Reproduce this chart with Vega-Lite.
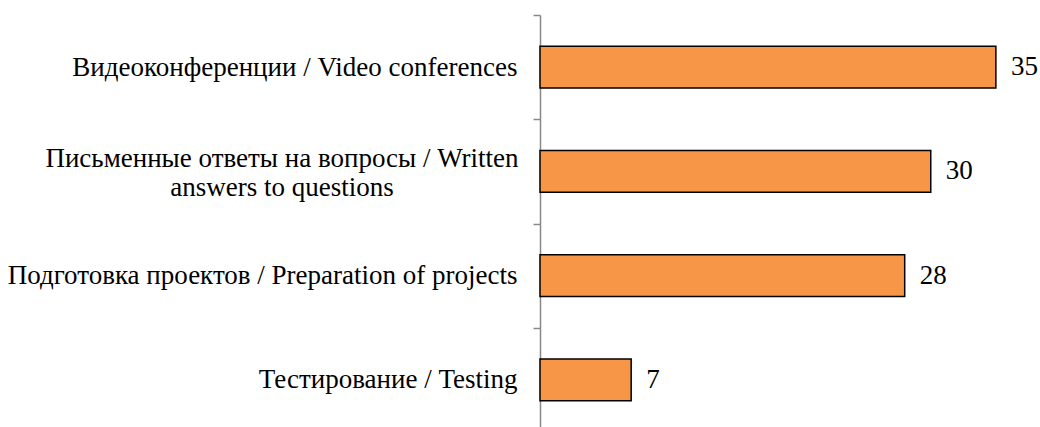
{
  "$schema": "https://vega.github.io/schema/vega-lite/v6.json",
  "width": 521,
  "height": 417,
  "autosize": "none",
  "padding": {"left": 540, "top": 15, "right": 0, "bottom": 0},
  "background": "white",
  "config": {"view": {"stroke": null}, "font": "Liberation Serif"},
  "data": {"values": [
    {"category": "Видеоконференции / Video conferences", "value": 35},
    {"category": "Письменные ответы на вопросы / Written|answers to questions", "value": 30},
    {"category": "Подготовка проектов / Preparation of projects", "value": 28},
    {"category": "Тестирование / Testing", "value": 7}
  ]},
  "encoding": {
    "y": {
      "field": "category", "type": "nominal", "sort": null,
      "scale": {"paddingInner": 0, "paddingOuter": 0},
      "axis": {
        "title": null,
        "domainColor": "#888888", "domainWidth": 1.5,
        "tickColor": "#888888", "tickWidth": 1.5, "tickSize": 7,
        "tickBand": "extent",
        "labelFont": "Liberation Serif", "labelFontSize": 27, "labelColor": "#000000",
        "labelPadding": 16, "labelLimit": 0,
        "labelExpr": "indexof(datum.label, '|') >= 0 ? '' : datum.label"
      }
    },
    "x": {"field": "value", "type": "quantitative", "scale": {"domain": [0, 40]}, "axis": null}
  },
  "layer": [
    {"mark": {"type": "bar", "height": {"band": 0.4}, "fill": "#F79646", "stroke": "#000000", "strokeWidth": 1.5}},
    {"mark": {"type": "text", "align": "left", "baseline": "middle", "dx": 15, "fontSize": 27, "font": "Liberation Serif", "color": "#000000"},
     "encoding": {"text": {"field": "value"}}},
    {"transform": [{"filter": "indexof(datum.category, '|') >= 0"}],
     "mark": {"type": "text", "align": "center", "baseline": "middle", "dx": -258, "dy": -12, "fontSize": 27, "font": "Liberation Serif", "color": "#000000", "lineBreak": "|", "lineHeight": 29},
     "encoding": {"text": {"field": "category"}, "x": {"datum": 0}}}
  ]
}
